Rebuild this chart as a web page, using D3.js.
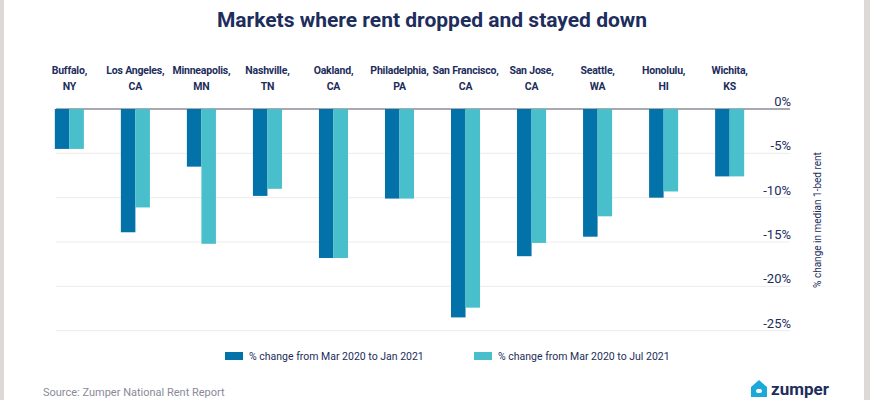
<!DOCTYPE html>
<html><head><meta charset="utf-8">
<script src="https://cdn.jsdelivr.net/npm/d3@7"></script>
<style>body{margin:0;background:#fff}svg{display:block;font-family:Roboto,sans-serif}</style>
</head><body><svg id="c" width="870" height="400"></svg>
<script>
const cities = ["Buffalo,|NY","Los Angeles,|CA","Minneapolis,|MN","Nashville,|TN","Oakland,|CA","Philadelphia,|PA","San Francisco,|CA","San Jose,|CA","Seattle,|WA","Honolulu,|HI","Wichita,|KS"];
const janValues = [-4.5,-13.9,-6.5,-9.8,-16.8,-10.1,-23.5,-16.6,-14.4,-10.0,-7.6];
const julValues = [-4.5,-11.1,-15.2,-9.0,-16.8,-10.1,-22.4,-15.1,-12.1,-9.3,-7.6];
const yTicks = [0,-5,-10,-15,-20,-25];
const seriesNames = ["% change from Mar 2020 to Jan 2021","% change from Mar 2020 to Jul 2021"];
const colors = ["#0272a8","#48bfcb"];

const svg = d3.select("#c");
svg.append("rect").attr("x",0).attr("width",4).attr("height",400).attr("fill","#dcd9d6");
svg.append("rect").attr("x",864).attr("width",6).attr("height",400).attr("fill","#dcd9d6");

const x = d3.scaleBand().domain(cities).range([37,762]).paddingInner(0.56).paddingOuter(0.27);
const x1 = d3.scaleBand().domain([0,1]).range([0,x.bandwidth()]);
const y = d3.scaleLinear().domain([0,-25]).range([109,330.7]);

svg.append("text").attr("x",432).attr("y",27).attr("text-anchor","middle")
  .attr("font-size",21).attr("font-weight",700).attr("fill","#1d2d5c")
  .text("Markets where rent dropped and stayed down");

svg.selectAll(".g").data(yTicks).join("line")
  .attr("x1",56).attr("x2",790).attr("y1",d=>y(d)).attr("y2",d=>y(d))
  .attr("stroke",d=>d===0?"#8c8c99":"#ececec").attr("stroke-width",d=>d===0?1.3:1);
svg.selectAll(".yt").data(yTicks).join("text")
  .attr("x",791).attr("y",d=>y(d)-3).attr("text-anchor","end")
  .attr("font-size",13).attr("fill","#1d2d5c").text(d=>d+"%");
svg.append("text").attr("transform","translate(821,220) rotate(-90)")
  .attr("text-anchor","middle").attr("font-size",10).attr("fill","#1d2d5c")
  .text("% change in median 1-bed rent");

const lab = svg.selectAll(".cl").data(cities).join("text")
  .attr("text-anchor","middle").attr("font-size",10.5).attr("letter-spacing",-0.2)
  .attr("font-weight",700).attr("fill","#1d2d5c");
lab.each(function(d){
  const cx = x(d)+x.bandwidth()/2;
  d.split("|").forEach((s,i)=>d3.select(this).append("tspan").attr("x",cx).attr("y",74+i*16).text(s));
});

const series = [janValues, julValues];
series.forEach((vals,si)=>{
  svg.selectAll(".b"+si).data(vals).join("rect")
    .attr("x",(d,i)=>x(cities[i])+x1(si)).attr("width",x1.bandwidth())
    .attr("y",y(0)).attr("height",d=>y(d)-y(0)).attr("fill",colors[si]);
});

const lg = svg.append("g");
[225,474].forEach((lx,i)=>{
  lg.append("rect").attr("x",lx).attr("y",352).attr("width",18).attr("height",8).attr("fill",colors[i]);
  lg.append("text").attr("x",lx+24).attr("y",360).attr("font-size",10.5).attr("fill","#1d2d5c").text(seriesNames[i]);
});

svg.append("text").attr("x",43).attr("y",396).attr("font-size",11).attr("fill","#8a8a99")
  .text("Source: Zumper National Rent Report");
svg.append("path").attr("d","M751,397 L751,387 L759,380 L767,387 L767,397 Z").attr("fill","#1ba9d9");
svg.append("rect").attr("x",756).attr("y",389).attr("width",6).attr("height",4).attr("fill","#fff").attr("rx",2);
svg.append("text").attr("x",771).attr("y",395).attr("font-size",17).attr("font-weight",700).attr("fill","#1d2d5c").text("zumper");
</script></body></html>
